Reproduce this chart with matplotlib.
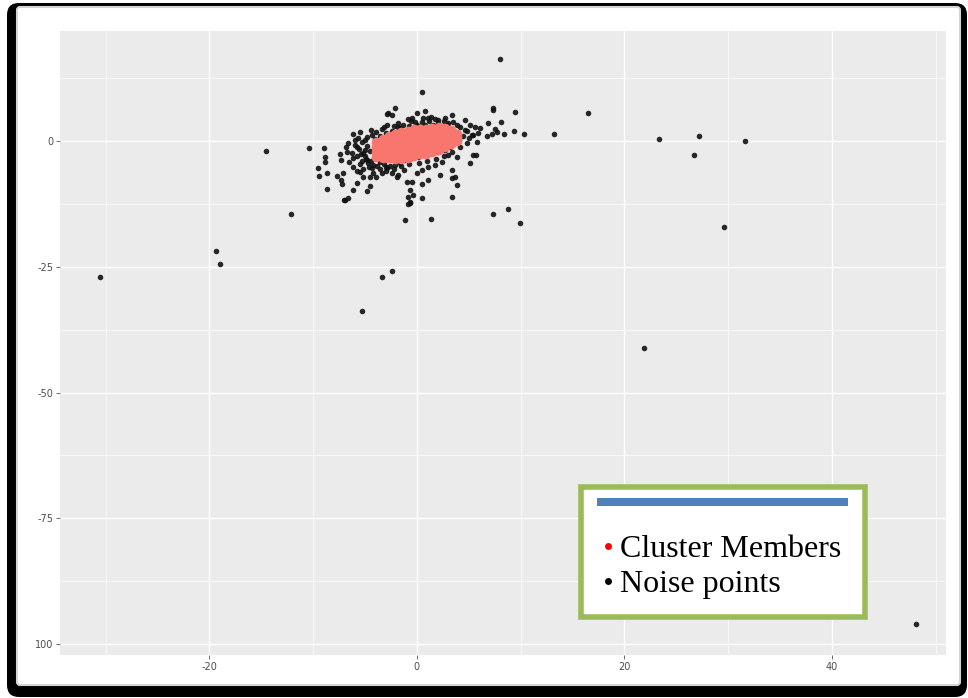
import matplotlib.pyplot as plt
from matplotlib.patches import FancyBboxPatch, Rectangle
from matplotlib.lines import Line2D

# noise points (outliers + the halo around the cluster)
noise_x = [-30.5, -19.4, -19.0, -14.5, -12.1, -5.3, -3.4, -2.4, -1.1, -0.9, -0.7, -7.0,
           8.0, 0.5, 16.5, 13.2, 23.3, 27.2, 26.7, 31.6, 29.6, 21.9, 48.1, 9.9, 8.8, 7.3,
           1.4, 9.5, 7.3, 7.3, 10.3, 9.4, 8.4, 8.1, 6.9, 7.5, 5.6, 6.1, 5.9, 5.4, 6.8, 7.2,
           7.7, 5.8, 5.7, 5.1, 5.3, 4.6, 5.1, 4.6, 3.9, 3.5, 3.4, 2.7, 1.7, 1.4, 1.1, 0.8,
           0.0, -0.5, -0.9, -2.1, -2.8, -2.4, -1.8, -1.3, 0.5, 2.0, 2.9, -2.9, -2.9, -3.4,
           -3.9, -4.3, -4.8, -5.3, -5.8, -6.2, -5.5, -5.7, -6.6, -6.7, -6.3, -5.2, -4.8,
           -4.7, -4.3, -6.5, -6.2, -5.5, -5.2, -4.5, -3.9, -3.4, -10.4, -9.0, -8.9, -8.9,
           -9.5, -9.4, -8.7, -8.7, -7.3, -7.7, -7.3, -7.1, -7.2, -6.2, -5.8, -6.9, -6.6,
           -4.8, -4.5, -2.9, -2.1, -1.6, -1.2, -0.5, 0.1, 0.8, 1.4, 2.0, 2.7, 3.2, 3.7, 4.1,
           -2.4, -1.8, -1.2, 0.0, 0.5, 1.1, 1.7, 2.4, 3.0, 3.9, 5.4, 2.2, 3.4, 3.7, 3.4, 3.9,
           1.1, -1.0, -0.5, 0.5, -0.7, -0.4, -0.9, -0.7, 0.5, 3.4, -1.9,
           -4.5, -4.8, -5.0, -4.4, -5.5, -3.8, -3.2, -5.8, -6.0, -4.6, -3.6, -5.2, -4.2,
           -3.0, -2.6, -3.0, -2.4, -1.6, -0.8, 0.0, 0.8, 1.6, 2.4, 3.2, 3.8, 4.4, -0.2,
           1.2, 2.6, -3.6, -4.0,
           -5.0, -5.4, -5.6, -4.9, -5.3, -4.2, -3.6, -3.0, -2.2, -1.5, -0.8, 0.2, 1.0,
           1.8, 2.6, 3.4, 4.2, 4.8, 5.0, 4.8, 4.2, 3.0, 2.0, 0.6, -0.6, -1.8, -2.2,
           -3.2, -4.4, -5.0, -6.0, -6.8, -7.4, -6.2, -5.8]
noise_y = [-27.0, -21.9, -24.5, -2.0, -14.5, -33.8, -27.0, -25.8, -15.7, -12.5, -12.3, -11.7,
           16.3, 9.7, 5.6, 1.4, 0.4, 1.0, -2.8, 0.0, -17.1, -41.2, -96.0, -16.3, -13.5, -14.5,
           -15.5, 5.8, 6.2, 6.6, 1.4, 2.0, 1.4, 3.8, 3.6, 2.4, 2.8, 2.6, 1.6, 1.2, 1.0, 1.4,
           1.8, -0.2, -2.8, -4.4, 1.2, 4.2, 3.2, 2.2, 3.2, 3.8, 5.2, 4.6, 4.4, 4.8, 4.6, 6.0,
           5.6, 4.6, 4.4, 6.6, 5.6, 5.2, 2.8, 3.2, 3.8, 3.6, 3.2, 5.4, 3.2, 2.4,
           1.8, 1.2, 0.8, -0.2, -1.2, 1.4, 1.8, 0.6, -0.4, -2.2, -2.4, -2.4, -3.8,
           -4.4, -5.4, -4.2, -5.2, -6.2, -7.2, -7.2, -7.2, -6.4, -1.4, -1.4, -3.2, -4.2,
           -5.4, -7.0, -6.4, -9.5, -3.8, -7.0, -7.8, -6.4, -8.5, -9.7, -8.4, -11.7, -11.3,
           -9.9, -8.9, -5.4, -4.8, -4.4, -3.8, -3.4, -3.2, -2.8, -2.4, -2.2, -1.8, -1.2, -0.4, 0.2,
           -6.4, -6.8, -5.8, -6.4, -5.8, -5.2, -4.8, -4.2, -2.8, -3.2, -2.8, -6.8, -5.8, -7.2, -7.4, -8.7,
           -7.8, -8.2, -8.2, -8.5, -9.7, -10.7, -11.1, -12.1, -11.3, -11.1, -7.2,
           -2.0, -1.0, -3.0, -4.0, -4.5, -5.0, -4.6, -3.0, -0.8, -5.2, -4.2, -5.6, -6.4,
           -6.0, -5.0, 1.6, 2.0, 2.6, 3.0, 3.2, 3.2, 3.2, 2.8, 2.4, 1.8, 1.0, 3.8,
           4.0, 4.0, 1.0, 0.4,
           -1.8, -2.6, -1.6, -3.6, -4.0, -4.8, -5.6, -5.2, -5.6, -5.0, -4.6, -4.4, -4.0,
           -3.6, -3.0, -2.2, -1.2, -0.4, 0.6, 2.0, 2.8, 3.6, 4.2, 4.6, 4.0, 3.6, 3.0,
           2.8, 2.2, 0.2, 0.2, -1.2, -2.6, -3.4, -6.0]

# cluster members
cluster_x = [-3.9] * 4 + [-3.3] * 5 + [-2.7] * 6 + [-2.1] * 6 + [-1.5] * 7 + [-0.9] * 7 + \
            [-0.3] * 7 + [0.3] * 6 + [0.9] * 6 + [1.5] * 6 + [2.1] * 6 + [2.7] * 5 + \
            [3.3] * 4 + [3.9] * 3
cluster_y = [-3.1, -2.1, -1.1, -0.1,
             -3.3, -2.3, -1.3, -0.3, 0.5,
             -3.4, -2.4, -1.4, -0.4, 0.6, 1.0,
             -3.5, -2.5, -1.5, -0.5, 0.5, 1.5,
             -3.5, -2.5, -1.5, -0.5, 0.5, 1.5, 1.9,
             -3.3, -2.3, -1.3, -0.3, 0.7, 1.7, 2.1,
             -3.0, -2.0, -1.0, 0.0, 1.0, 2.0, 2.4,
             -2.6, -1.6, -0.6, 0.4, 1.4, 2.4,
             -2.5, -1.5, -0.5, 0.5, 1.5, 2.5,
             -2.2, -1.2, -0.2, 0.8, 1.8, 2.7,
             -1.8, -0.8, 0.2, 1.2, 2.2, 2.8,
             -1.2, -0.2, 0.8, 1.8, 2.7,
             -0.6, 0.4, 1.4, 2.2,
             0.1, 0.9, 1.5]

y_ticks = [0, -25, -50, -75, -100]
y_labels = ['0', '-25', '-50', '-75', '100']
x_ticks = [-20, 0, 20, 40]
x_labels = ['-20', '0', '20', '40']
legend_labels = ['Cluster Members', 'Noise points']

W, H = 968, 698
fig = plt.figure(figsize=(W / 100, H / 100), dpi=100)
fig.patch.set_facecolor('white')

# framed background (pixel coordinates)
bg = fig.add_axes([0, 0, 1, 1], zorder=0)
bg.set_xlim(0, W)
bg.set_ylim(H, 0)
bg.axis('off')
bg.add_patch(FancyBboxPatch((7, 3), 960, 694, boxstyle='round,pad=0,rounding_size=12',
                            fc='black', ec='none'))
bg.add_patch(FancyBboxPatch((17, 7), 943, 678, boxstyle='round,pad=0,rounding_size=3',
                            fc='white', ec='#d4d4d4', lw=1.5))

# main panel, ggplot look
ax = fig.add_axes([60 / W, 1 - 655 / H, 886 / W, 624 / H], zorder=1)
ax.set_facecolor('#EBEBEB')
ax.set_xlim(-34.4, 51.0)
ax.set_ylim(-102.2, 21.9)
ax.set_xticks(x_ticks)
ax.set_xticklabels(x_labels)
ax.set_yticks(y_ticks)
ax.set_yticklabels(y_labels)
ax.set_xticks([-30, -10, 10, 30, 50], minor=True)
ax.set_yticks([12.5, -12.5, -37.5, -62.5, -87.5], minor=True)
ax.grid(which='major', color='white', lw=1.0)
ax.grid(which='minor', color='white', lw=0.5)
ax.set_axisbelow(True)
for s in ax.spines.values():
    s.set_visible(False)
ax.tick_params(which='major', length=3, width=0.6, color='#555555', labelsize=7,
               labelcolor='#4D4D4D', pad=2)
ax.tick_params(which='minor', length=0)

ax.scatter(noise_x, noise_y, s=16, color='#111111', alpha=0.9, lw=0, zorder=2)
ax.scatter(cluster_x, cluster_y, s=48, color='#F8766D', lw=0, zorder=3)

# legend box drawn on top
fg = fig.add_axes([0, 0, 1, 1], zorder=3)
fg.set_xlim(0, W)
fg.set_ylim(H, 0)
fg.axis('off')
fg.patch.set_alpha(0)
fg.add_patch(Rectangle((581, 487), 284, 130, fc='white', ec='#9BBB59', lw=4.0))
fg.add_patch(Rectangle((597, 498), 251, 8, fc='#4F81BD', ec='none'))
fg.add_line(Line2D([608], [546], marker='o', ms=5, color='red', mec='none'))
fg.add_line(Line2D([608], [581], marker='o', ms=5, color='black', mec='none'))
fg.text(620, 557, legend_labels[0], family='Liberation Serif', fontsize=23,
        va='baseline', ha='left', color='black')
fg.text(620, 592, legend_labels[1], family='Liberation Serif', fontsize=23,
        va='baseline', ha='left', color='black')

plt.savefig('out.png', dpi=100)
